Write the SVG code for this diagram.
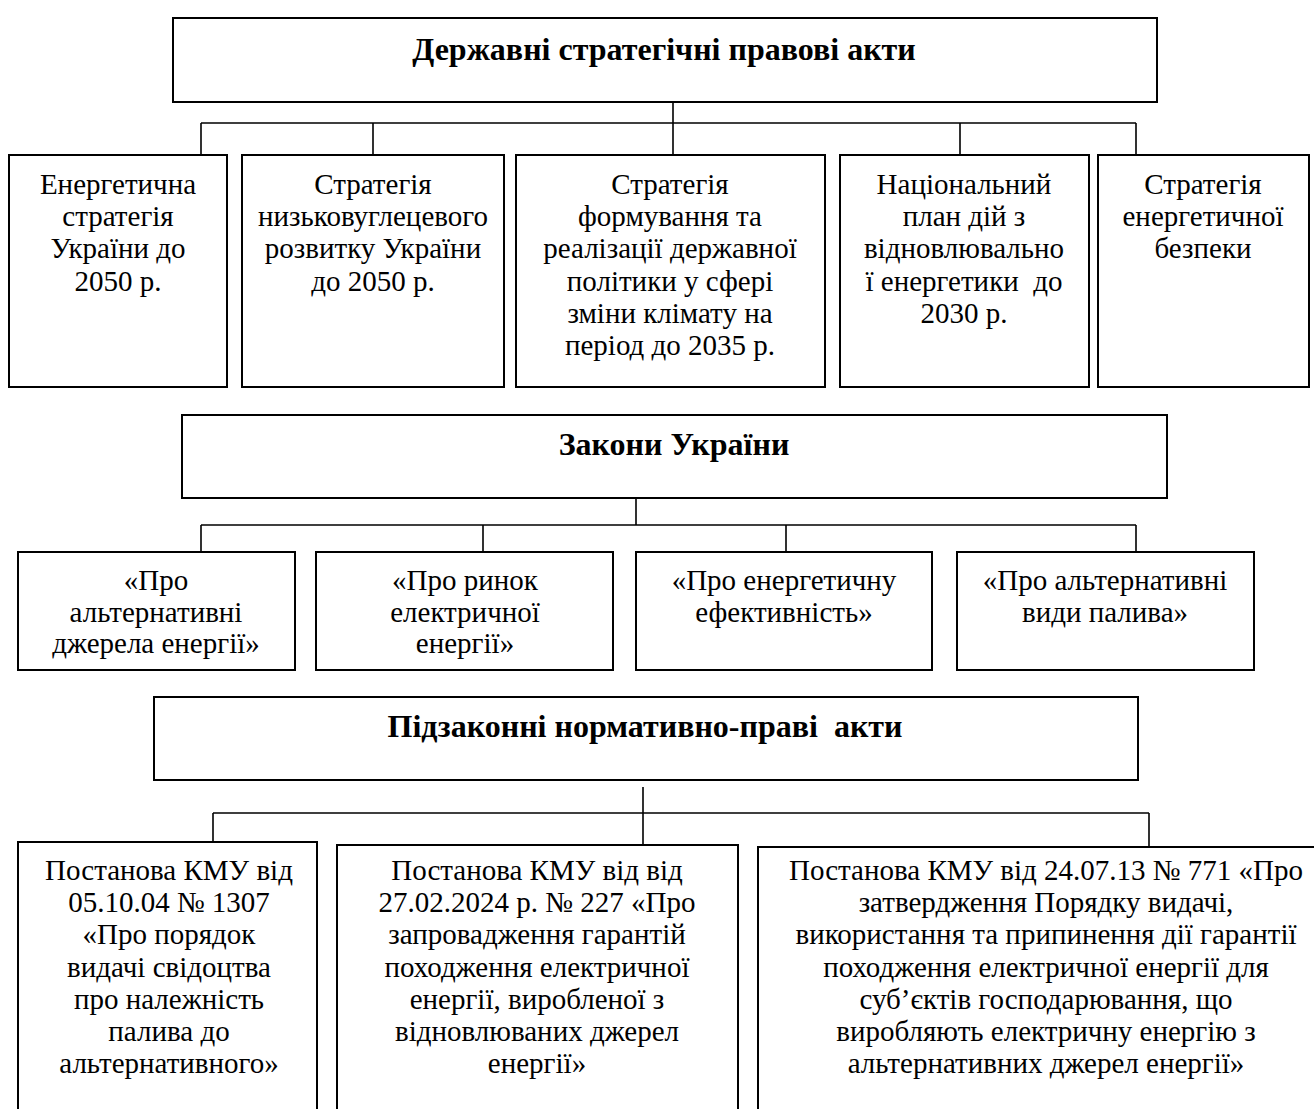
<svg xmlns="http://www.w3.org/2000/svg" width="1314" height="1109" viewBox="0 0 1314 1109">
<style>
.box{fill:#fff;stroke:#000;stroke-width:2}
.t{font-family:"Liberation Serif","Times New Roman",serif;font-size:29px;fill:#000;text-anchor:middle}
.h{font-family:"Liberation Serif","Times New Roman",serif;font-size:32px;font-weight:bold;fill:#000;text-anchor:middle}
.c{fill:none;stroke:#000;stroke-width:1.6}
</style>
<rect width="1314" height="1109" fill="#fff"/>
<g id="connectors">
<path class="c" d="M673,102V155M201,123H1136M201,123V155M373,123V155M960,123V155M1136,123V155"/>
<path class="c" d="M636,498V525M201,525H1136M201,525V552M483,525V552M786,525V552M1136,525V552"/>
<path class="c" d="M643,787V845M213,813H1149M213,813V842M1149,813V847"/>
</g>
<g id="n-top">
<rect class="box" x="173" y="18" width="984" height="84"/>
<text class="h" x="664" y="60">Державні стратегічні правові акти</text>
</g>
<g id="n-s1">
<rect class="box" x="9" y="155" width="218" height="232"/>
<text class="t"><tspan x="118" y="194">Енергетична</tspan><tspan x="118" y="226.2">стратегія</tspan><tspan x="118" y="258.4">України до</tspan><tspan x="118" y="290.6">2050 р.</tspan></text>
</g>
<g id="n-s2">
<rect class="box" x="242" y="155" width="262" height="232"/>
<text class="t"><tspan x="373" y="194">Стратегія</tspan><tspan x="373" y="226.2">низьковуглецевого</tspan><tspan x="373" y="258.4">розвитку України</tspan><tspan x="373" y="290.6">до 2050 р.</tspan></text>
</g>
<g id="n-s3">
<rect class="box" x="516" y="155" width="309" height="232"/>
<text class="t"><tspan x="670" y="194">Стратегія</tspan><tspan x="670" y="226.2">формування та</tspan><tspan x="670" y="258.4">реалізації державної</tspan><tspan x="670" y="290.6">політики у сфері</tspan><tspan x="670" y="322.8">зміни клімату на</tspan><tspan x="670" y="355">період до 2035 р.</tspan></text>
</g>
<g id="n-s4">
<rect class="box" x="840" y="155" width="249" height="232"/>
<text class="t" xml:space="preserve"><tspan x="964" y="194">Національний</tspan><tspan x="964" y="226.2">план дій з</tspan><tspan x="964" y="258.4">відновлювально</tspan><tspan x="964" y="290.6">ї енергетики  до</tspan><tspan x="964" y="322.8">2030 р.</tspan></text>
</g>
<g id="n-s5">
<rect class="box" x="1098" y="155" width="211" height="232"/>
<text class="t"><tspan x="1203" y="194">Стратегія</tspan><tspan x="1203" y="226.2">енергетичної</tspan><tspan x="1203" y="258.4">безпеки</tspan></text>
</g>
<g id="n-laws">
<rect class="box" x="182" y="415" width="985" height="83"/>
<text class="h" x="674" y="455">Закони України</text>
</g>
<g id="n-l1">
<rect class="box" x="18" y="552" width="277" height="118"/>
<text class="t"><tspan x="156" y="590">«Про</tspan><tspan x="156" y="621.5">альтернативні</tspan><tspan x="156" y="653">джерела енергії»</tspan></text>
</g>
<g id="n-l2">
<rect class="box" x="316" y="552" width="297" height="118"/>
<text class="t"><tspan x="465" y="590">«Про ринок</tspan><tspan x="465" y="621.5">електричної</tspan><tspan x="465" y="653">енергії»</tspan></text>
</g>
<g id="n-l3">
<rect class="box" x="636" y="552" width="296" height="118"/>
<text class="t"><tspan x="784" y="590">«Про енергетичну</tspan><tspan x="784" y="621.5">ефективність»</tspan></text>
</g>
<g id="n-l4">
<rect class="box" x="957" y="552" width="297" height="118"/>
<text class="t"><tspan x="1105" y="590">«Про альтернативні</tspan><tspan x="1105" y="621.5">види палива»</tspan></text>
</g>
<g id="n-sub">
<rect class="box" x="154" y="697" width="984" height="83"/>
<text class="h" x="645" y="737" xml:space="preserve">Підзаконні нормативно-праві  акти</text>
</g>
<g id="n-b1">
<rect class="box" x="18" y="842" width="299" height="300"/>
<text class="t"><tspan x="169" y="880">Постанова КМУ від</tspan><tspan x="169" y="912.2">05.10.04 № 1307</tspan><tspan x="169" y="944.4">«Про порядок</tspan><tspan x="169" y="976.6">видачі свідоцтва</tspan><tspan x="169" y="1008.8">про належність</tspan><tspan x="169" y="1041">палива до</tspan><tspan x="169" y="1073.2">альтернативного»</tspan></text>
</g>
<g id="n-b2">
<rect class="box" x="337" y="845" width="401" height="300"/>
<text class="t"><tspan x="537" y="880">Постанова КМУ від від</tspan><tspan x="537" y="912.2">27.02.2024 р. № 227 «Про</tspan><tspan x="537" y="944.4">запровадження гарантій</tspan><tspan x="537" y="976.6">походження електричної</tspan><tspan x="537" y="1008.8">енергії, виробленої з</tspan><tspan x="537" y="1041">відновлюваних джерел</tspan><tspan x="537" y="1073.2">енергії»</tspan></text>
</g>
<g id="n-b3">
<rect class="box" x="758" y="847" width="576" height="300"/>
<text class="t"><tspan x="1046" y="880">Постанова КМУ від 24.07.13 № 771 «Про</tspan><tspan x="1046" y="912.2">затвердження Порядку видачі,</tspan><tspan x="1046" y="944.4">використання та припинення дії гарантії</tspan><tspan x="1046" y="976.6">походження електричної енергії для</tspan><tspan x="1046" y="1008.8">суб’єктів господарювання, що</tspan><tspan x="1046" y="1041">виробляють електричну енергію з</tspan><tspan x="1046" y="1073.2">альтернативних джерел енергії»</tspan></text>
</g>
</svg>
